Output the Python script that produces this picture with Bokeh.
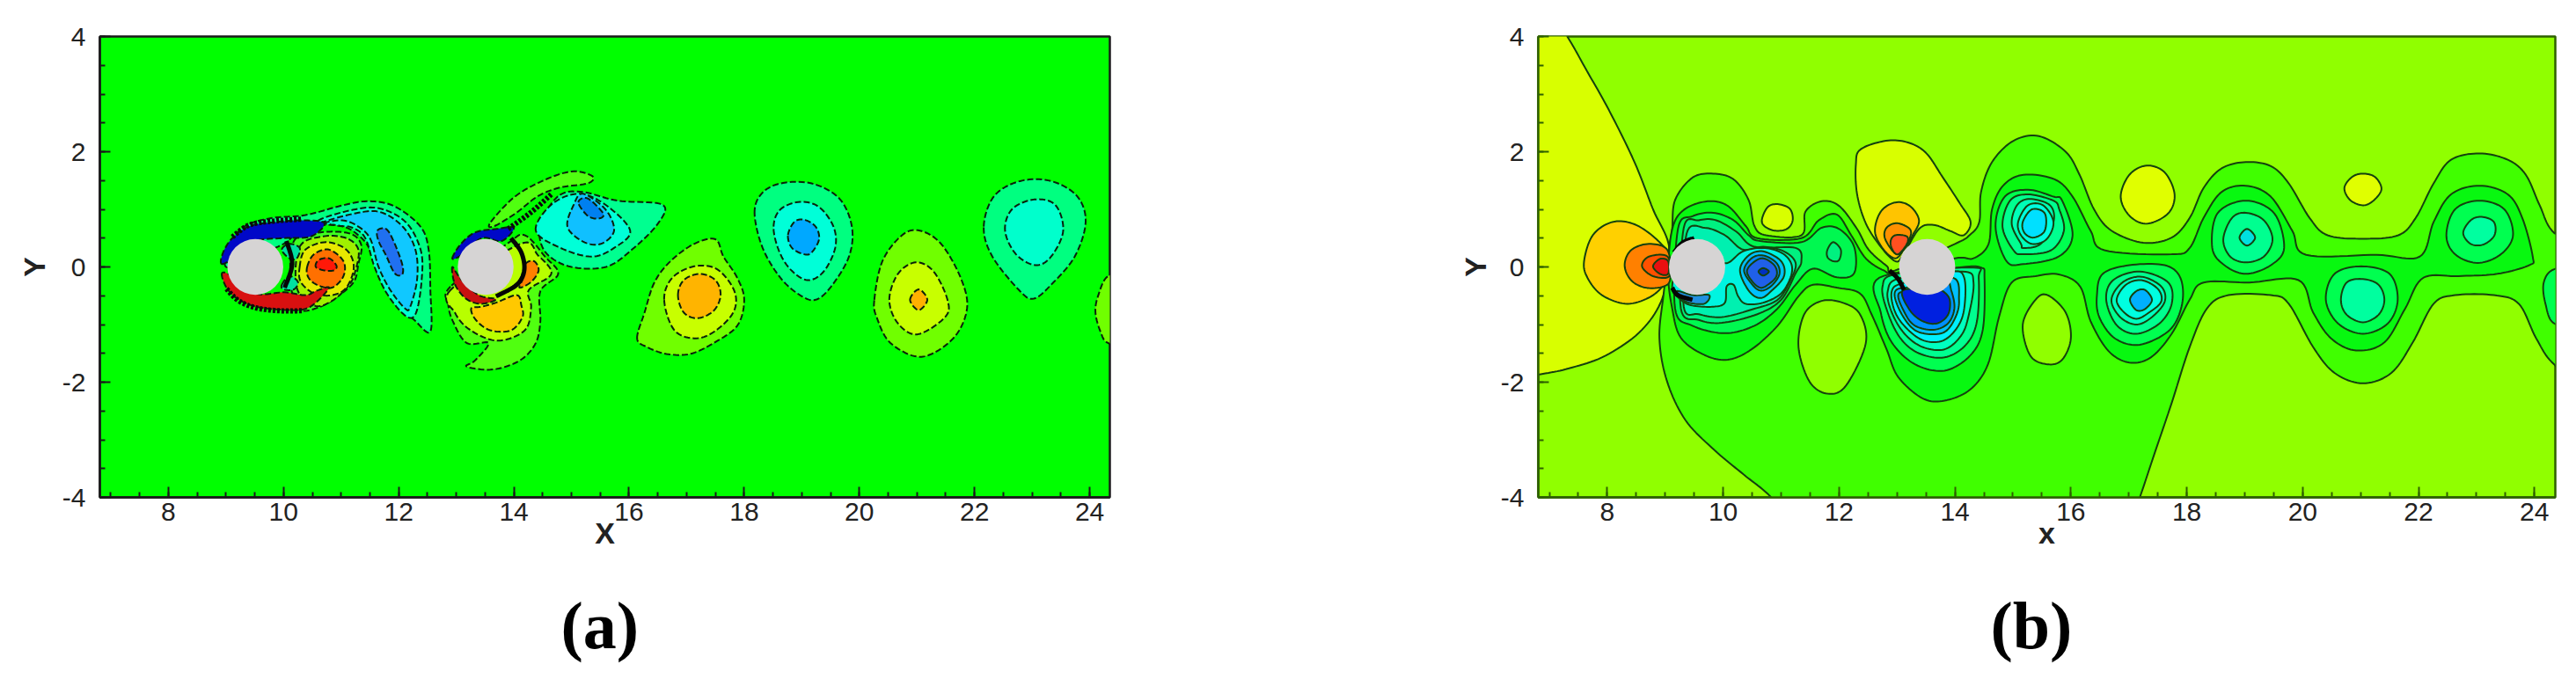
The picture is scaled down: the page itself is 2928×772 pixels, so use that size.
from bokeh.plotting import figure
from bokeh.layouts import row
from bokeh.models import FixedTicker, Range1d, Title
from bokeh.embed import file_html
from bokeh.resources import INLINE
import numpy as np

x_major = [8, 10, 12, 14, 16, 18, 20, 22, 24]
y_major = [-4, -2, 0, 2, 4]
tick_text = {-4: "-4", -2: "-2", 0: "0", 2: "2", 4: "4"}
a_cyl_x = [9.51, 13.51]
b_cyl_x = [9.55, 13.52]
cyl_y = [0.0, 0.0]

# ---------- panel (a): traced contour outlines (x, y) ----------
a_w1_l1 = [(9.0,0.0),(9.1,0.45),(9.35,0.72),(9.8,0.85),(10.38,0.9),(10.99,1.06),(11.45,1.14),(11.91,1.06),(12.37,0.71),(12.52,0.3),(12.55,-0.4),(12.55,-1.12),(12.27,-0.92),(11.91,-0.57),(11.65,-0.16),(11.5,0.3),(11.3,0.55),(10.99,0.71),(10.4,0.7),(10.0,0.4),(9.5,0.2)]
a_w1_l2 = [(10.6,0.8),(11.15,0.98),(11.65,1.02),(12.12,0.78),(12.38,0.3),(12.4,-0.21),(12.3,-0.8),(12.12,-0.85),(11.8,-0.47),(11.58,0.0),(11.42,0.5),(11.2,0.68),(10.95,0.72)]
a_w1_l3 = [(10.64,0.76),(11.15,0.91),(11.65,0.96),(12.06,0.71),(12.29,0.3),(12.32,-0.21),(12.2,-0.69),(12.11,-0.72),(11.86,-0.41),(11.65,0.0),(11.5,0.5),(11.25,0.73),(10.99,0.81)]
a_w1_l4 = [(11.63,0.63),(11.78,0.66),(11.91,0.45),(12.06,0.05),(12.06,-0.13),(11.93,-0.11),(11.78,0.2),(11.65,0.45)]
a_w1_p0 = [(10.18,0.45),(10.64,0.6),(11.15,0.58),(11.35,0.38),(11.3,0.05),(11.22,-0.26),(10.94,-0.51),(10.64,-0.69),(10.28,-0.74),(10.13,-0.31)]
a_w1_p1 = [(10.28,0.35),(10.69,0.53),(11.09,0.5),(11.3,0.3),(11.25,-0.06),(11.14,-0.31),(10.84,-0.59),(10.53,-0.67),(10.23,-0.36)]
a_w1_p2 = [(10.28,0.0),(10.38,0.3),(10.74,0.43),(11.09,0.3),(11.22,0.0),(11.09,-0.36),(10.84,-0.49),(10.53,-0.46),(10.3,-0.26)]
a_w1_p3 = [(10.41,0.0),(10.53,0.22),(10.79,0.3),(11.04,0.1),(11.04,-0.16),(10.84,-0.36),(10.58,-0.31),(10.43,-0.18)]
a_w1_p4 = [(10.56,0.0),(10.61,0.12),(10.79,0.15),(10.92,0.02),(10.87,-0.06),(10.71,-0.06)]
a_w1_q1 = [(9.97,0.3),(10.1,0.4),(10.28,0.33),(10.23,0.15),(10.1,0.15)]
a_w1_q2 = [(9.97,-0.31),(10.1,-0.16),(10.25,-0.26),(10.18,-0.39),(10.0,-0.39)]
a_c1_blue = [(8.93,0.05),(8.95,0.25),(9.11,0.5),(9.41,0.71),(9.87,0.78),(10.33,0.81),(10.71,0.76),(10.48,0.53),(10.02,0.5),(9.51,0.45),(9.2,0.2)]
a_c1_red = [(8.93,-0.11),(9.01,-0.36),(9.21,-0.56),(9.52,-0.69),(9.92,-0.74),(10.33,-0.74),(10.56,-0.62),(10.79,-0.36),(10.58,-0.41),(10.38,-0.49),(10.02,-0.44),(9.51,-0.46),(9.11,-0.16)]
a_band = [(13.6,0.78),(14.03,1.23),(14.58,1.53),(15.04,1.66),(15.37,1.57),(15.28,1.45),(14.81,1.38),(14.42,1.23),(14.03,0.93),(13.64,0.7)]
a_w2_l1 = [(14.8,1.25),(15.2,1.3),(15.8,1.15),(16.58,1.08),(16.5,0.75),(16.05,0.3),(15.6,0.0),(15.0,0.0),(14.6,0.2),(14.45,0.5),(14.5,0.85)]
a_w2_l2 = [(14.38,0.63),(14.65,1.08),(15.12,1.27),(15.59,1.08),(16.02,0.63),(15.74,0.33),(15.35,0.18),(14.81,0.33)]
a_w2_l3 = [(14.93,0.7),(15.04,1.08),(15.2,1.27),(15.59,1.0),(15.74,0.63),(15.51,0.4),(15.2,0.44)]
a_w2_l4 = [(15.12,1.12),(15.28,1.19),(15.55,0.93),(15.47,0.84),(15.28,0.89)]
a_c2_p1 = [(12.9,-0.34),(12.86,-0.64),(12.94,-0.94),(13.18,-1.32),(13.56,-1.32),(13.33,-1.62),(13.18,-1.73),(13.64,-1.78),(14.11,-1.62),(14.38,-1.32),(14.46,-0.94),(14.46,-0.42),(14.77,-0.12),(14.54,0.18),(14.19,0.55),(13.88,0.4)]
a_c2_p2 = [(12.9,-0.4),(12.98,-0.8),(13.25,-1.1),(13.72,-1.28),(14.19,-1.1),(14.3,-0.7),(14.26,-0.4),(14.65,-0.12),(14.42,0.2),(14.11,0.4)]
a_c2_p3 = [(13.26,-0.72),(13.34,-0.92),(13.59,-1.1),(13.95,-1.1),(14.15,-0.87),(14.13,-0.67),(14.05,-0.49),(13.69,-0.62),(13.44,-0.69)]
a_c2_p4 = [(14.2,0.05),(14.35,0.1),(14.43,-0.06),(14.3,-0.26),(14.1,-0.36),(14.15,-0.21)]
a_c2_red = [(12.93,0.0),(12.98,-0.31),(13.18,-0.56),(13.44,-0.64),(13.69,-0.56),(13.39,-0.49),(13.08,-0.21)]
a_c2_blue = [(12.93,0.15),(13.08,0.4),(13.33,0.6),(13.69,0.66),(14.0,0.68),(13.79,0.45),(13.44,0.5),(13.08,0.2)]
a_v17_l1 = [(16.14,-1.24),(16.27,-0.79),(16.44,-0.27),(16.72,0.1),(17.13,0.4),(17.5,0.48),(17.64,0.18),(17.88,-0.19),(18.0,-0.57),(17.88,-1.02),(17.47,-1.32),(17.06,-1.51),(16.65,-1.51),(16.31,-1.39)]
a_v17_l2 = [(16.61,-0.57),(16.75,-0.19),(17.13,0.01),(17.53,-0.04),(17.83,-0.42),(17.81,-0.79),(17.47,-1.13),(17.13,-1.24),(16.78,-1.09)]
a_v17_l3 = [(16.85,-0.49),(16.95,-0.23),(17.23,-0.12),(17.5,-0.23),(17.59,-0.49),(17.47,-0.76),(17.19,-0.89),(16.95,-0.79)]
a_v19_l1 = [(18.18,0.93),(18.3,1.27),(18.63,1.45),(19.17,1.45),(19.65,1.19),(19.87,0.7),(19.82,0.18),(19.51,-0.34),(19.24,-0.57),(18.97,-0.49),(18.63,-0.19),(18.32,0.33)]
a_v19_l2 = [(18.51,0.7),(18.63,1.0),(18.97,1.13),(19.3,1.04),(19.55,0.7),(19.58,0.33),(19.38,-0.08),(19.1,-0.23),(18.8,-0.04),(18.6,0.29)]
a_v19_l3 = [(18.76,0.55),(18.87,0.78),(19.04,0.82),(19.24,0.7),(19.3,0.48),(19.17,0.25),(19.04,0.22),(18.83,0.33)]
a_v21_l1 = [(20.26,-0.57),(20.4,0.1),(20.74,0.55),(21.05,0.63),(21.42,0.4),(21.76,-0.19),(21.87,-0.72),(21.63,-1.24),(21.08,-1.56),(20.54,-1.32),(20.3,-0.87)]
a_v21_l2 = [(20.52,-0.57),(20.67,-0.12),(20.98,0.08),(21.29,-0.08),(21.53,-0.57),(21.49,-0.87),(21.01,-1.17),(20.67,-0.98)]
a_v21_l3 = [(20.88,-0.57),(21.03,-0.39),(21.18,-0.57),(21.03,-0.75)]
a_v23_l1 = [(22.16,0.7),(22.34,1.23),(22.79,1.49),(23.33,1.49),(23.78,1.23),(23.93,0.78),(23.74,0.18),(23.33,-0.31),(23.03,-0.55),(22.79,-0.42),(22.31,0.18)]
a_v23_l2 = [(22.53,0.63),(22.65,1.0),(23.03,1.17),(23.4,1.08),(23.54,0.63),(23.33,0.18),(23.06,0.03),(22.72,0.22)]
a_edge = [(24.7,-0.16),(24.32,-0.16),(24.15,-0.49),(24.1,-0.79),(24.19,-1.13),(24.32,-1.32),(24.7,-1.32)]
a_dark_1 = [(10.05,0.45),(10.15,0.05),(10.02,-0.36)]
a_dark_2 = [(13.95,0.5),(14.13,0.25),(14.18,-0.06),(14.05,-0.31),(13.69,-0.51)]
a_hatch_1 = [(13.9,0.66),(14.3,0.95),(14.66,1.27)]
a_hatch_2 = [(9.11,0.52),(9.41,0.73),(9.87,0.8),(10.33,0.83)]
a_hatch_3 = [(9.01,-0.38),(9.21,-0.58),(9.52,-0.71),(9.92,-0.76),(10.33,-0.76)]

a_layers = [
    (a_w1_l1, "#00ff80"), (a_w1_l2, "#00ffd0"), (a_w1_l3, "#10c8ff"), (a_w1_l4, "#2070f0"),
    (a_w1_p0, "#40ff20"), (a_w1_p1, "#a0f000"), (a_w1_p2, "#e8e800"), (a_w1_p3, "#ff7000"), (a_w1_p4, "#ff1808"),
    (a_w1_q1, "#00e0a0"), (a_w1_q2, "#00e0a0"),
    (a_c1_blue, "#0008c8"), (a_c1_red, "#d81010"),
    (a_band, "#50ff10"),
    (a_w2_l1, "#00ff90"), (a_w2_l2, "#00ffd8"), (a_w2_l3, "#10c0ff"), (a_w2_l4, "#0080f0"),
    (a_c2_p1, "#50ff10"), (a_c2_p2, "#b8ff00"), (a_c2_p3, "#ffc800"), (a_c2_p4, "#ff8000"),
    (a_c2_red, "#c81010"), (a_c2_blue, "#0008c8"),
    (a_v17_l1, "#70ff00"), (a_v17_l2, "#c8ff00"), (a_v17_l3, "#ffb400"),
    (a_v19_l1, "#00ff80"), (a_v19_l2, "#00ffd8"), (a_v19_l3, "#00a8ff"),
    (a_v21_l1, "#70ff00"), (a_v21_l2, "#c8ff00"), (a_v21_l3, "#ffb000"),
    (a_v23_l1, "#00ff80"), (a_v23_l2, "#00ffcc"),
    (a_edge, "#70ff00"),
]
a_dark = [a_dark_1, a_dark_2]
a_hatch = [a_hatch_1, a_hatch_2, a_hatch_3]

# ---------- panel (b): traced contour outlines (x, y) ----------
b_left = [(6.0,5.0),(7.0,4.42),(7.31,4.0),(7.65,3.4),(8.03,2.72),(8.47,1.82),(8.79,1.0),(9.07,0.33),(8.97,-0.49),(8.6,-1.09),(7.97,-1.54),(7.34,-1.76),(6.81,-1.87),(6.0,-2.0)]
b_g1 = [(9.07,0.33),(9.12,0.66),(9.17,1.16),(9.47,1.55),(9.83,1.62),(10.18,1.52),(10.44,1.16),(10.54,0.71),(10.74,0.55),(11.35,0.55),(11.42,0.96),(11.7,1.14),(12.0,1.06),(12.31,0.66),(12.51,0.3),(12.82,0.02),(12.97,-0.06),(14.0,0.4),(14.25,0.55),(14.42,0.78),(14.45,1.3),(14.64,1.82),(15.01,2.19),(15.45,2.27),(15.91,2.0),(16.15,1.6),(16.4,1.0),(16.7,0.63),(17.25,0.42),(17.74,0.51),(18.05,0.85),(18.29,1.37),(18.6,1.71),(19.02,1.82),(19.45,1.75),(19.76,1.45),(20.12,0.85),(20.43,0.55),(21.04,0.49),(21.65,0.55),(21.95,0.85),(22.26,1.45),(22.56,1.86),(23.05,1.97),(23.54,1.86),(23.85,1.6),(24.09,1.07),(24.34,0.59),(25.0,0.2),(25.0,-2.1),(24.34,-1.69),(24.03,-1.24),(23.73,-0.64),(23.3,-0.49),(22.63,-0.49),(22.26,-0.64),(21.9,-1.31),(21.53,-1.84),(21.04,-2.02),(20.55,-1.84),(20.18,-1.39),(19.76,-0.64),(19.45,-0.49),(18.72,-0.49),(18.35,-0.72),(18.05,-1.39),(17.74,-2.36),(17.44,-3.25),(17.19,-4.0),(16.9,-4.8),(11.3,-4.6),(10.83,-4.0),(10.35,-3.6),(9.85,-3.18),(9.35,-2.66),(9.03,-1.98),(8.9,-1.24),(8.97,-0.49)]
b_i1 = [(11.3,-1.39),(11.4,-0.82),(11.7,-0.59),(12.06,-0.62),(12.36,-0.82),(12.46,-1.33),(12.12,-2.06),(11.8,-2.2),(11.49,-1.99)]
b_i2 = [(15.17,-1.0),(15.39,-0.57),(15.6,-0.49),(15.91,-0.79),(16.0,-1.24),(15.85,-1.61),(15.6,-1.69),(15.3,-1.54)]
b_i3 = [(10.67,0.83),(10.77,1.04),(10.94,1.09),(11.15,1.01),(11.2,0.81),(11.1,0.66),(10.89,0.63),(10.71,0.71)]
b_i4 = [(16.86,1.22),(17.01,1.6),(17.31,1.76),(17.62,1.64),(17.79,1.26),(17.68,0.93),(17.31,0.75),(17.01,0.89)]
b_i5 = [(20.72,1.37),(20.85,1.56),(21.04,1.62),(21.25,1.56),(21.36,1.35),(21.22,1.15),(21.04,1.07),(20.82,1.16)]
b_up = [(12.29,1.78),(12.37,2.04),(12.81,2.19),(13.19,2.16),(13.5,1.98),(13.78,1.57),(14.08,1.11),(14.27,0.78),(14.15,0.55),(13.93,0.62),(13.63,0.73),(13.38,0.66),(13.1,0.2),(12.97,0.1),(12.72,0.35),(12.46,0.76),(12.31,1.27)]
b_g2 = [(9.12,0.65),(9.32,0.99),(9.73,1.14),(10.08,1.06),(10.39,0.71),(10.59,0.5),(11.35,0.5),(11.65,0.81),(11.96,0.91),(12.21,0.55),(12.46,0.15),(12.77,-0.06),(13.0,-0.1),(14.0,0.15),(14.32,0.15),(14.58,0.4),(14.64,1.0),(14.83,1.41),(15.18,1.6),(15.72,1.52),(16.03,1.22),(16.34,0.63),(16.58,0.29),(17.74,0.22),(18.05,0.33),(18.29,0.85),(18.6,1.3),(19.02,1.41),(19.45,1.22),(19.82,0.63),(20.06,0.21),(21.28,0.21),(22.02,0.18),(22.26,0.78),(22.56,1.26),(23.05,1.41),(23.54,1.26),(23.79,0.85),(23.97,0.18),(23.91,0.03),(23.36,-0.12),(22.69,-0.16),(22.08,-0.19),(21.77,-0.72),(21.41,-1.31),(20.92,-1.45),(20.49,-1.24),(20.18,-0.79),(19.93,-0.23),(19.08,-0.27),(18.29,-0.27),(18.05,-0.57),(17.74,-1.16),(17.38,-1.57),(17.01,-1.66),(16.65,-1.46),(16.34,-0.94),(16.16,-0.34),(15.79,-0.13),(15.39,-0.16),(14.98,-0.27),(14.76,-0.87),(14.57,-1.69),(14.26,-2.13),(13.82,-2.32),(13.44,-2.28),(13.02,-1.91),(12.82,-1.43),(12.56,-0.82),(12.36,-0.46),(11.96,-0.36),(11.55,-0.31),(11.3,-0.51),(10.94,-1.02),(10.49,-1.43),(10.08,-1.61),(9.68,-1.53),(9.27,-1.23),(9.12,-0.72),(9.05,-0.1)]
b_c1_l3 = [(9.22,0.66),(9.47,0.88),(9.83,0.94),(10.18,0.81),(10.44,0.55),(10.64,0.45),(11.35,0.43),(11.7,0.68),(12.0,0.66),(12.26,0.35),(12.26,-0.11),(11.96,-0.18),(11.55,-0.03),(11.25,-0.31),(10.94,-0.72),(10.54,-1.02),(10.03,-1.15),(9.47,-1.02),(9.17,-0.72)]
b_c1_l4 = [(9.32,0.68),(9.58,0.81),(9.88,0.81),(10.23,0.61),(10.54,0.35),(11.25,0.33),(11.35,0.1),(11.25,-0.11),(11.0,-0.57),(10.59,-0.82),(9.98,-0.97),(9.58,-0.92),(9.27,-0.72)]
b_c1_l5 = [(9.37,0.58),(9.68,0.68),(10.03,0.55),(10.34,0.3),(10.69,0.35),(11.05,0.27),(11.25,0.07),(11.17,-0.21),(10.94,-0.57),(10.49,-0.74),(9.98,-0.87),(9.58,-0.82),(9.32,-0.69)]
b_c1_l6 = [(10.08,0.07),(10.34,0.27),(10.69,0.33),(11.0,0.25),(11.17,0.07),(11.17,-0.16),(11.0,-0.46),(10.69,-0.62),(10.39,-0.64),(10.26,-0.51),(10.18,-0.31),(10.06,-0.34),(10.03,-0.62),(9.83,-0.69),(9.47,-0.67),(9.27,-0.57),(9.12,-0.36),(9.27,0.0),(9.83,0.1)]
b_c1_l7 = [(10.29,-0.06),(10.44,0.2),(10.69,0.27),(11.0,0.1),(11.05,-0.16),(10.84,-0.41),(10.64,-0.54),(10.44,-0.41)]
b_c1_l8 = [(10.36,-0.06),(10.49,0.15),(10.69,0.2),(10.92,0.07),(10.97,-0.13),(10.82,-0.34),(10.64,-0.41),(10.49,-0.29)]
b_c1_l9 = [(10.41,-0.08),(10.51,0.07),(10.69,0.15),(10.89,0.02),(10.92,-0.16),(10.77,-0.31),(10.64,-0.36),(10.51,-0.26)]
b_c1_l10 = [(10.61,-0.08),(10.69,-0.02),(10.79,-0.08),(10.69,-0.15)]
b_c1_sub = [(9.2,-0.42),(9.35,-0.6),(9.67,-0.64),(9.76,-0.49),(9.48,-0.49)]
b_is12 = [(11.8,0.3),(11.9,0.43),(12.03,0.3),(12.0,0.12),(11.9,0.1),(11.8,0.17)]
b_o1 = [(7.6,0.1),(7.75,0.55),(8.09,0.78),(8.47,0.74),(8.85,0.48),(9.07,0.18),(9.04,-0.19),(8.79,-0.49),(8.35,-0.64),(7.91,-0.49),(7.66,-0.19)]
b_o2 = [(8.3,0.03),(8.41,0.29),(8.72,0.4),(9.04,0.29),(9.09,-0.19),(8.97,-0.34),(8.66,-0.36),(8.41,-0.23)]
b_o3 = [(8.6,0.01),(8.72,0.18),(9.04,0.18),(9.07,-0.16),(8.79,-0.16)]
b_o4 = [(8.79,0.01),(8.91,0.14),(9.05,0.1),(9.05,-0.12),(8.91,-0.12)]
b_t1 = [(12.62,0.61),(12.72,0.96),(12.97,1.12),(13.22,1.06),(13.38,0.81),(13.27,0.55),(13.12,0.3),(12.97,0.15),(12.77,0.3)]
b_t2 = [(12.79,0.5),(12.82,0.68),(13.0,0.76),(13.22,0.66),(13.22,0.5),(13.07,0.25),(12.95,0.25)]
b_t3 = [(12.89,0.45),(12.97,0.55),(13.17,0.53),(13.17,0.4),(13.02,0.22),(12.92,0.3)]
b_c2_l3 = [(12.69,-0.19),(12.72,-0.79),(12.91,-1.31),(13.31,-1.69),(13.82,-1.8),(14.26,-1.54),(14.48,-1.09),(14.51,-0.19),(14.45,-0.01),(14.04,-0.01)]
b_c2_l4 = [(12.75,-0.34),(12.84,-0.79),(13.06,-1.24),(13.38,-1.5),(13.82,-1.57),(14.19,-1.35),(14.38,-0.94),(14.41,-0.19),(14.32,-0.01),(13.0,-0.12)]
b_c2_l5 = [(12.84,-0.42),(12.91,-0.79),(13.13,-1.16),(13.44,-1.39),(13.82,-1.43),(14.1,-1.2),(14.23,-0.87),(14.32,-0.27),(14.13,-0.08),(13.06,-0.19)]
b_c2_l6 = [(12.91,-0.42),(12.97,-0.79),(13.19,-1.09),(13.47,-1.28),(13.79,-1.28),(14.04,-1.05),(14.16,-0.72),(14.16,-0.19),(13.94,-0.08),(13.13,-0.27)]
b_c2_l7 = [(12.97,-0.42),(13.03,-0.72),(13.25,-1.05),(13.5,-1.16),(13.82,-1.13),(14.01,-0.87),(14.07,-0.57),(13.97,-0.19),(13.25,-0.34)]
b_c2_l8 = [(13.03,-0.46),(13.13,-0.79),(13.31,-1.02),(13.63,-1.09),(13.88,-0.98),(13.99,-0.72),(13.94,-0.42),(13.82,-0.19),(13.38,-0.42)]
b_c2_l9 = [(13.09,-0.42),(13.22,-0.75),(13.44,-0.94),(13.69,-0.98),(13.88,-0.83),(13.91,-0.57),(13.79,-0.42),(13.63,-0.38),(13.44,-0.38)]
b_v15_l3 = [(14.7,0.7),(14.86,1.22),(15.26,1.34),(15.7,1.22),(15.85,1.15),(16.03,0.55),(15.79,0.18),(15.18,0.05),(14.89,0.1)]
b_v15_l4 = [(14.82,0.7),(14.95,1.15),(15.26,1.26),(15.7,1.15),(15.8,1.0),(15.88,0.63),(15.66,0.29),(15.18,0.22),(15.01,0.29)]
b_v15_l5 = [(14.98,0.74),(15.07,1.07),(15.29,1.18),(15.64,1.07),(15.7,0.78),(15.48,0.4),(15.18,0.33),(15.14,0.4)]
b_v15_l6 = [(15.09,0.78),(15.26,1.07),(15.52,1.07),(15.7,0.78),(15.58,0.48),(15.33,0.4),(15.14,0.55)]
b_v15_l7 = [(15.17,0.78),(15.33,1.0),(15.55,0.93),(15.55,0.63),(15.36,0.51),(15.2,0.59)]
b_v17_l3 = [(16.45,-0.49),(16.55,-0.12),(17.01,0.03),(17.62,0.03),(17.89,-0.19),(17.92,-0.64),(17.71,-1.09),(17.19,-1.35),(16.76,-1.24),(16.49,-0.87)]
b_v17_l4 = [(16.61,-0.57),(16.73,-0.23),(17.19,-0.08),(17.68,-0.27),(17.74,-0.64),(17.53,-0.98),(17.13,-1.16),(16.79,-1.01)]
b_v17_l5 = [(16.7,-0.57),(16.89,-0.27),(17.22,-0.17),(17.56,-0.34),(17.62,-0.6),(17.4,-0.87),(17.13,-1.0),(16.85,-0.87)]
b_v17_l6 = [(16.79,-0.57),(16.95,-0.31),(17.22,-0.23),(17.5,-0.38),(17.56,-0.6),(17.35,-0.79),(17.13,-0.9),(16.92,-0.79)]
b_v17_l7 = [(17.02,-0.57),(17.13,-0.42),(17.28,-0.4),(17.4,-0.57),(17.28,-0.73),(17.13,-0.75)]
b_v19_l3 = [(18.44,0.33),(18.53,0.93),(19.02,1.15),(19.51,0.93),(19.68,0.33),(19.45,0.03),(19.02,-0.12),(18.65,0.03)]
b_v19_l4 = [(18.63,0.48),(18.78,0.85),(19.02,0.94),(19.33,0.81),(19.48,0.48),(19.33,0.18),(19.02,0.08),(18.75,0.18)]
b_v19_l5 = [(18.91,0.51),(19.04,0.66),(19.18,0.51),(19.04,0.37)]
b_v21_l3 = [(20.4,-0.57),(20.55,-0.12),(21.01,0.01),(21.5,-0.12),(21.64,-0.57),(21.47,-0.98),(21.04,-1.16),(20.61,-0.98)]
b_v21_l4 = [(20.66,-0.57),(20.76,-0.27),(21.04,-0.21),(21.31,-0.31),(21.41,-0.57),(21.31,-0.83),(21.04,-0.96),(20.76,-0.83)]
b_v23_l3 = [(22.48,0.55),(22.63,1.0),(23.05,1.15),(23.48,1.0),(23.63,0.55),(23.42,0.22),(23.02,0.07),(22.63,0.22)]
b_v23_l4 = [(22.77,0.59),(22.9,0.81),(23.09,0.87),(23.3,0.78),(23.31,0.55),(23.12,0.39),(22.9,0.4)]
b_edge = [(24.8,-0.04),(24.34,-0.04),(24.16,-0.27),(24.19,-0.64),(24.34,-0.98),(24.8,-0.98)]
b_dark_1 = [(9.12,-0.36),(9.22,-0.49),(9.47,-0.57)]
b_dark_2 = [(12.87,-0.06),(13.02,-0.21),(13.12,-0.4)]
b_dark_3 = [(9.15,0.25),(9.3,0.42),(9.5,0.5)]

b_layers = [
    (b_left, "#d8ff00"), (b_g1, "#40ff00"),
    (b_i1, "#90ff00"), (b_i2, "#90ff00"), (b_i3, "#d8ff00"), (b_i4, "#e0ff00"), (b_i5, "#e0ff00"),
    (b_up, "#d8ff00"),
    (b_g2, "#08f810"),
    (b_c1_l3, "#00f850"), (b_c1_l4, "#00f080"), (b_c1_l5, "#00f0b0"), (b_c1_l6, "#00f4e0"), (b_c1_l7, "#00c0ff"), (b_c1_l8, "#0090ff"), (b_c1_l9, "#2060e8"), (b_c1_l10, "#0030c0"), (b_c1_sub, "#2090e0"),
    (b_is12, "#00f080"),
    (b_o1, "#ffd000"), (b_o2, "#ff8000"), (b_o3, "#ff5000"), (b_o4, "#e81010"),
    (b_t1, "#ffc400"), (b_t2, "#ff9000"), (b_t3, "#ff5020"),
    (b_c2_l3, "#00ff50"), (b_c2_l4, "#00ff90"), (b_c2_l5, "#00ffc0"), (b_c2_l6, "#00f0ff"), (b_c2_l7, "#00c0ff"), (b_c2_l8, "#0090ff"), (b_c2_l9, "#0020e0"),
    (b_v15_l3, "#00ff50"), (b_v15_l4, "#00ff90"), (b_v15_l5, "#00ffb8"), (b_v15_l6, "#00ffe0"), (b_v15_l7, "#00e0ff"),
    (b_v17_l3, "#00ff50"), (b_v17_l4, "#00ff90"), (b_v17_l5, "#00ffc0"), (b_v17_l6, "#00ffe0"), (b_v17_l7, "#00b0ff"),
    (b_v19_l3, "#00ff50"), (b_v19_l4, "#00ff90"), (b_v19_l5, "#00e0e0"),
    (b_v21_l3, "#00ff50"), (b_v21_l4, "#00ff9f"),
    (b_v23_l3, "#00ff50"), (b_v23_l4, "#00ffa0"),
    (b_edge, "#00ff50"),
]
b_dark = [b_dark_1, b_dark_2, b_dark_3]


def smooth(pts, closed=True, n=10):
    """Catmull-Rom curve through the traced points."""
    p = np.asarray(pts, float)
    if closed:
        idx = [(i + k) % len(p) for i in range(len(p)) for k in (-1, 0, 1, 2)]
        segs = np.array(idx).reshape(-1, 4)
    else:
        p = np.vstack([p[0], p, p[-1]])
        segs = np.array([[i - 1, i, i + 1, i + 2] for i in range(1, len(p) - 2)])
    t = np.linspace(0, 1, n, endpoint=False)[:, None]
    out = []
    for a, b, c, d in segs:
        p0, p1, p2, p3 = p[a], p[b], p[c], p[d]
        out.append(0.5 * (2 * p1 + (p2 - p0) * t + (2 * p0 - 5 * p1 + 4 * p2 - p3) * t ** 2
                          + (3 * p1 - p0 - 3 * p2 + p3) * t ** 3))
    out = np.vstack(out)
    out = np.vstack([out, out[0]]) if closed else np.vstack([out, p[-2]])
    return out[:, 0].tolist(), out[:, 1].tolist()


def panel(width, border_left, frame_w, xr, bg, layers, dark, hatch, cyl_x, line_color, line_w, dash,
          frame_color, xlab, ylab, ylab_gap, tag, tag_offset):
    p = figure(width=width, height=764, frame_width=frame_w, frame_height=524,
               x_range=Range1d(*xr), y_range=Range1d(-4, 4),
               min_border_left=border_left, min_border_right=width - border_left - frame_w,
               min_border_top=41, min_border_bottom=764 - 41 - 524,
               output_backend="svg", toolbar_location=None,
               background_fill_color=bg, border_fill_color="white",
               outline_line_color=frame_color, outline_line_width=2.5)
    p.grid.visible = False
    xs, ys, cols = [], [], []
    for pts, c in layers:
        x, y = smooth(pts)
        xs.append(x); ys.append(y); cols.append(c)
    p.patches(xs, ys, fill_color=cols, line_color=line_color, line_width=line_w, line_dash=dash)
    for pts in hatch:
        x, y = smooth(pts, closed=False)
        p.line(x, y, line_color="#0a0a0a", line_width=6, line_dash="3 2")
    for pts in dark:
        x, y = smooth(pts, closed=False)
        p.line(x, y, line_color="#050505", line_width=5)
    p.ellipse(cyl_x, cyl_y, width=0.97, height=0.97, fill_color="#d6d4d4", line_color=None)
    for ax, ticks in ((p.xaxis[0], x_major), (p.yaxis[0], y_major)):
        ax.ticker = FixedTicker(ticks=ticks, minor_ticks=[t + s for t in range(-6, 28, 2) for s in (0, 0.5, 1, 1.5)])
        ax.axis_line_color = frame_color
        ax.axis_line_width = 2.5
        ax.major_tick_line_color = frame_color
        ax.minor_tick_line_color = frame_color
        ax.major_tick_line_width = 2
        ax.minor_tick_line_width = 2
        ax.major_tick_in = 12
        ax.major_tick_out = 0
        ax.minor_tick_in = 6
        ax.minor_tick_out = 0
        ax.major_label_text_font = "Liberation Sans"
        ax.major_label_text_font_size = "30px"
        ax.major_label_text_color = "#222222"
        ax.major_label_standoff = 6
        ax.axis_label_text_font = "Liberation Sans"
        ax.axis_label_text_font_style = "bold"
        ax.axis_label_text_font_size = "34px"
        ax.axis_label_text_color = "#222222"
    p.yaxis[0].major_label_overrides = tick_text
    p.yaxis[0].major_label_orientation = "horizontal"
    p.yaxis[0].major_label_standoff = 16
    p.xaxis[0].axis_label = xlab
    p.xaxis[0].axis_label_standoff = -8
    p.yaxis[0].axis_label = ylab
    p.yaxis[0].axis_label_standoff = ylab_gap
    t = Title(text=tag, align="left", offset=tag_offset, standoff=78, text_font="Liberation Serif",
              text_font_style="bold", text_font_size="76px", text_color="#000000")
    p.add_layout(t, "below")
    return p


pa = panel(1600, 113, 1148, (6.81, 24.35), "#00ff00", a_layers, a_dark, a_hatch, a_cyl_x,
           "#0a200a", 2, "7 3", "#1a1a1a", "X", "Y", 10, "(a)", 524)
pb = panel(1320, 148, 1156, (6.81, 24.36), "#90ff00", b_layers, b_dark, [], b_cyl_x,
           "#14400e", 2, "solid", "#2e6000", "x", "Y", 7, "(b)", 514)

open("out.html", "w").write(file_html(row(pa, pb, spacing=0), INLINE))
